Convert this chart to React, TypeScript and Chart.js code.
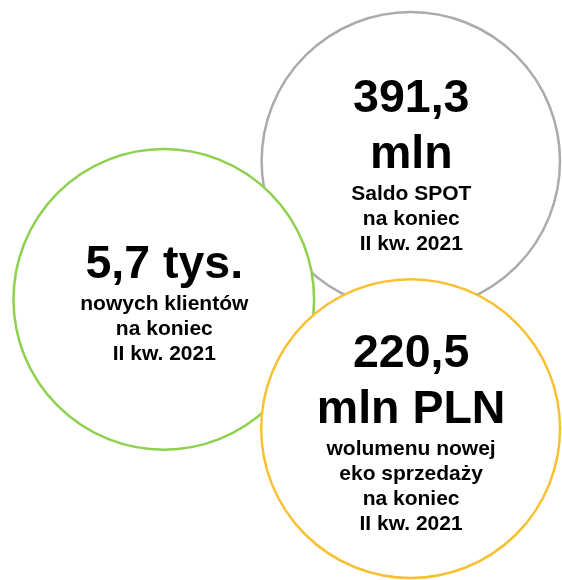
import React, { useEffect, useRef } from "react";
import { Chart, registerables } from "chart.js";

Chart.register(...registerables);

// Bubble data (order = drawing order: grey, green, yellow)
const bubbleLabels = ["Saldo SPOT", "Nowi klienci", "Eko sprzedaż"];
const xValues = [410.8, 163.8, 410.6];
const yValues = [161.2, 299.4, 428.6];
const rValues = [149.2, 150.3, 149.4];
const headlineLines: string[][] = [["391,3", "mln"], ["5,7 tys."], ["220,5", "mln PLN"]];
const captionLines: string[][] = [
  ["Saldo SPOT", "na koniec", "II kw. 2021"],
  ["nowych klientów", "na koniec", "II kw. 2021"],
  ["wolumenu nowej", "eko sprzedaży", "na koniec", "II kw. 2021"],
];
const borderColors = ["#ABABAB", "#8FD14F", "#F9C032"];

const FONT_FAMILY = '"Liberation Sans", Arial, Helvetica, sans-serif';
const BIG_SIZE = 46.5;
const SMALL_SIZE = 21;
const BIG_PITCH = 56.5;
const GAP = 32;
const SMALL_PITCH = 25;
const CAP = 33;

const textPlugin = {
  id: "bubbleText",
  afterDatasetsDraw(chart: any) {
    const ctx: CanvasRenderingContext2D = chart.ctx;
    const meta = chart.getDatasetMeta(0);
    ctx.save();
    ctx.fillStyle = "#000000";
    ctx.textAlign = "center";
    ctx.textBaseline = "alphabetic";
    meta.data.forEach((el: any, i: number) => {
      const { x, y } = el.getProps(["x", "y"], true);
      const big = headlineLines[i];
      const small = captionLines[i];
      const blockH = CAP + (big.length - 1) * BIG_PITCH + GAP + (small.length - 1) * SMALL_PITCH + 4;
      const top = y + 5.5 - blockH / 2;
      let b = top + CAP;
      ctx.font = `bold ${BIG_SIZE}px ${FONT_FAMILY}`;
      big.forEach((line, k) => {
        if (k > 0) b += BIG_PITCH;
        ctx.fillText(line, x + 0.5, b);
      });
      b += GAP;
      ctx.font = `bold ${SMALL_SIZE}px ${FONT_FAMILY}`;
      small.forEach((line, k) => {
        if (k > 0) b += SMALL_PITCH;
        ctx.fillText(line, x + 0.5, b);
      });
    });
    ctx.restore();
  },
};

export default function App() {
  const canvasRef = useRef<HTMLCanvasElement | null>(null);

  useEffect(() => {
    if (!canvasRef.current) return;
    const chart = new Chart(canvasRef.current, {
      type: "bubble",
      data: {
        labels: bubbleLabels,
        datasets: [
          {
            label: "Wskaźniki",
            data: xValues.map((x, i) => ({ x, y: yValues[i], r: rValues[i] })),
            backgroundColor: "#FFFFFF",
            borderColor: borderColors,
            borderWidth: 2.5,
            hoverBorderWidth: 2.5,
            clip: false,
          } as any,
        ],
      },
      options: {
        responsive: false,
        animation: false,
        events: [],
        layout: { padding: 0, autoPadding: false },
        plugins: {
          legend: { display: false },
          tooltip: { enabled: false },
        },
        scales: {
          x: { type: "linear", min: 0, max: 562, display: false },
          y: { type: "linear", min: 0, max: 580, reverse: true, display: false },
        },
      },
      plugins: [textPlugin],
    });
    return () => chart.destroy();
  }, []);

  return (
    <div style={{ position: "absolute", left: 0, top: 0, width: 562, height: 580, background: "#FFFFFF" }}>
      <canvas ref={canvasRef} width={562} height={580} style={{ display: "block" }} />
    </div>
  );
}
